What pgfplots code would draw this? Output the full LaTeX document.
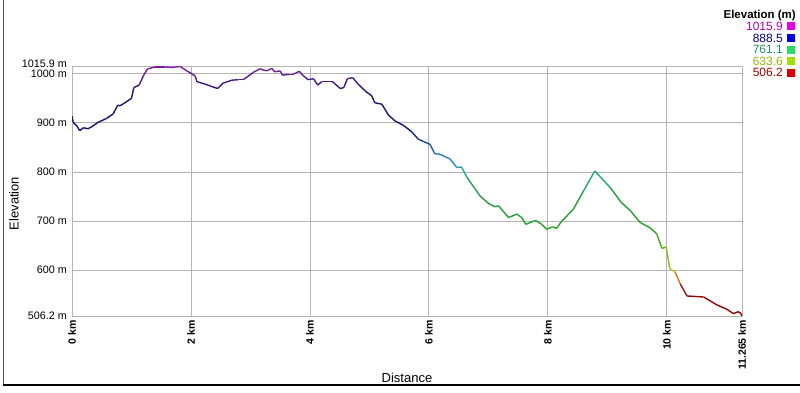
\documentclass[border=0pt]{standalone}
\usepackage{fontspec}
\setmainfont{Liberation Sans}
\usepackage{pgfplots}
\pgfplotsset{compat=1.18}
\pgfplotstableread{
x y
0.00 914
0.02 901
0.08 894
0.13 884
0.19 890
0.27 888
0.33 892
0.44 901
0.58 909
0.69 918
0.77 936
0.81 935
0.89 941
1.00 950
1.04 972
1.13 977
1.20 996
1.27 1010
1.40 1014
1.56 1014
1.68 1013
1.82 1015
1.93 1006
2.07 996
2.10 984
2.24 979
2.35 974
2.45 970
2.54 981
2.69 987
2.80 988
2.88 988
3.05 1003
3.16 1010
3.27 1006
3.36 1011
3.41 1004
3.50 1006
3.54 997
3.64 999
3.72 999
3.82 1005
3.89 996
3.97 988
4.06 990
4.13 977
4.20 984
4.31 984
4.38 984
4.51 970
4.57 972
4.63 990
4.72 992
4.81 979
4.93 965
5.04 955
5.09 941
5.21 938
5.32 916
5.43 904
5.57 895
5.71 882
5.82 867
6.02 856
6.10 837
6.19 836
6.36 826
6.47 809
6.55 810
6.64 789
6.86 751
7.00 736
7.11 729
7.17 731
7.34 707
7.48 714
7.56 707
7.63 693
7.79 701
7.90 693
7.98 683
8.08 688
8.15 685
8.23 699
8.43 724
8.60 761
8.79 802
9.05 768
9.24 737
9.38 722
9.55 697
9.72 686
9.83 674
9.92 644
9.99 647
10.05 603
10.14 596
10.23 571
10.34 547
10.62 545
10.84 529
11.01 520
11.12 511
11.20 515
11.24 512
11.265 506.2
}\elev
\definecolor{gridc}{RGB}{180,180,180}
\definecolor{lgA}{RGB}{180,0,180}
\definecolor{lgB}{RGB}{0,0,120}
\definecolor{lgC}{RGB}{30,150,90}
\definecolor{lgD}{RGB}{150,185,0}
\definecolor{lgE}{RGB}{160,0,0}
\definecolor{sqA}{RGB}{230,0,230}
\definecolor{sqB}{RGB}{0,0,230}
\definecolor{sqC}{RGB}{40,220,100}
\definecolor{sqD}{RGB}{160,225,0}
\definecolor{sqE}{RGB}{225,0,0}
\begin{document}
\begin{tikzpicture}
\useasboundingbox (0pt,0pt) rectangle (800pt,392pt);
\draw[gray!60!black, line width=0.8pt] (3pt,392pt) -- (3pt,7pt);
\draw[black, line width=2pt] (3pt,7pt) -- (800pt,7pt);
\begin{axis}[
  at={(72pt,76pt)}, anchor=south west,
  scale only axis, width=670pt, height=250pt,
  xmin=0, xmax=11.265, ymin=506.2, ymax=1015.9,
  axis line style={color=gridc, line width=0.8pt},
  grid=major, major grid style={color=gridc, line width=0.8pt},
  major tick length=0pt,
  xtick={0,2,4,6,8,10,11.265},
  xticklabels={0 km,2 km,4 km,6 km,8 km,10 km,11.265 km},
  ytick={506.2,600,700,800,900,1000,1015.9},
  yticklabels={506.2 m,600 m,700 m,800 m,900 m,1000 m,\raisebox{4.5pt}{1015.9 m}},
  xticklabel style={rotate=90, anchor=east, font=\fontsize{10.5}{12}\selectfont\bfseries, inner sep=4pt},
  yticklabel style={anchor=east, font=\fontsize{10.8}{12}\selectfont, inner sep=5pt},
  xlabel={Distance}, ylabel={Elevation},
  xlabel style={at={(axis description cs:0.5,-0.248)}, anchor=center, font=\fontsize{13}{15}\selectfont},
  ylabel style={at={(axis description cs:-0.0866,0.45)}, anchor=center, font=\fontsize{13}{15}\selectfont},
  colormap={elev}{rgb255(0pt)=(140,0,0); rgb255(50pt)=(150,10,10); rgb255(70pt)=(190,90,30); rgb255(95pt)=(210,190,40); rgb255(127pt)=(120,190,20); rgb255(170pt)=(40,160,40); rgb255(255pt)=(30,160,60); rgb255(295pt)=(40,170,170); rgb255(330pt)=(40,120,190); rgb255(370pt)=(20,40,130); rgb255(382pt)=(20,20,110); rgb255(460pt)=(40,20,110); rgb255(490pt)=(90,30,140); rgb255(510pt)=(130,30,160)},
  point meta min=506.2, point meta max=1015.9,
]
\addplot[mesh, point meta=y, line width=1.4pt] table[x=x,y=y] {\elev};
\end{axis}
\node[anchor=east, font=\fontsize{11.5}{13}\selectfont\bfseries, inner sep=0pt] at (796pt,376.5pt) {Elevation (m)};
\foreach \v/\c/\s/\yy in {1015.9/lgA/sqA/365.5, 888.5/lgB/sqB/354, 761.1/lgC/sqC/342.5, 633.6/lgD/sqD/331, 506.2/lgE/sqE/319.5}{
  \node[anchor=east, text=\c, font=\fontsize{12}{13}\selectfont, inner sep=0pt] at (783pt,\yy pt) {\v};
  \fill[\s] (787pt,\yy pt-4pt) rectangle (795pt,\yy pt+4pt);
}
\end{tikzpicture}
\end{document}
